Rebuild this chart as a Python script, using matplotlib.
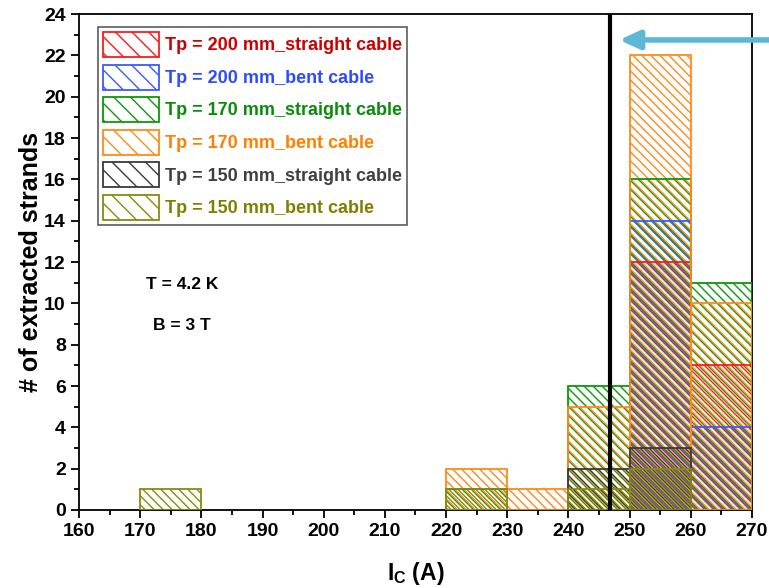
import matplotlib
matplotlib.use("Agg")
import matplotlib.pyplot as plt
import numpy as np
from matplotlib.patches import Patch
from matplotlib.collections import LineCollection
from matplotlib.transforms import IdentityTransform
from matplotlib.ticker import MultipleLocator

plt.rcParams['font.family'] = ['Liberation Sans', 'DejaVu Sans']
plt.rcParams['font.weight'] = 'bold'
plt.rcParams['mathtext.fontset'] = 'custom'
plt.rcParams['mathtext.rm'] = 'Liberation Sans:bold'
plt.rcParams['mathtext.it'] = 'Liberation Sans:bold'
plt.rcParams['mathtext.bf'] = 'Liberation Sans:bold'
plt.rcParams['hatch.linewidth'] = 1.0

# Histogram bins (left edges, 10 A wide)
bin_left = [170, 180, 190, 200, 210, 220, 230, 240, 250, 260]
bin_width = 10

labels = [
    "Tp = 200 mm_straight cable",
    "Tp = 200 mm_bent cable",
    "Tp = 170 mm_straight cable",
    "Tp = 170 mm_bent cable",
    "Tp = 150 mm_straight cable",
    "Tp = 150 mm_bent cable",
]
counts_200_straight = [0, 0, 0, 0, 0, 0, 0, 0, 12, 7]
counts_200_bent     = [0, 0, 0, 0, 0, 0, 0, 0, 14, 4]
counts_170_straight = [0, 0, 0, 0, 0, 1, 0, 6, 16, 11]
counts_170_bent     = [0, 0, 0, 0, 0, 2, 1, 5, 22, 10]
counts_150_straight = [0, 0, 0, 0, 0, 0, 0, 2, 3, 0]
counts_150_bent     = [1, 0, 0, 0, 0, 1, 0, 1, 2, 0]
series = [counts_200_straight, counts_200_bent, counts_170_straight,
          counts_170_bent, counts_150_straight, counts_150_bent]

edge_colors = ['#FF1A1A', '#3A5BFF', '#0A9A0A', '#FF8A1A', '#3A3A3A', '#8A8A10']
text_colors = ['#CC0000', '#2E4BFF', '#0A8C0A', '#FF8000', '#404040', '#808000']

ic_mean = 246.8   # vertical reference line
T_text = "T = 4.2 K"
B_text = "B = 3 T"

DPI = 100
fig = plt.figure(figsize=(7.69, 5.88), dpi=DPI)
ax = fig.add_axes([0.1027, 0.1327, 0.8752, 0.8433])
ax.set_xlim(160, 270)
ax.set_ylim(0, 24)

HATCH_STEP = 9.0   # px between hatch lines of one series


def hatch_patch(patch, color, phase):
    """Diagonal '\\' hatch lines clipped to a bar, shifted by `phase` px."""
    (x0, y0), (x1, y1) = ax.transData.transform(
        [(patch.get_x(), patch.get_y()),
         (patch.get_x() + patch.get_width(), patch.get_y() + patch.get_height())])
    cmin, cmax = x0 + y0, x1 + y1
    k0 = np.floor((cmin - phase) / HATCH_STEP) - 1
    k1 = np.ceil((cmax - phase) / HATCH_STEP) + 1
    segs = []
    for k in np.arange(k0, k1 + 1):
        c = k * HATCH_STEP + phase
        segs.append([(c - y1, y1), (c - y0, y0)])
    lc = LineCollection(segs, colors=color, linewidths=1.0,
                        transform=IdentityTransform(), zorder=2)
    ax.add_collection(lc, autolim=False)
    lc.set_clip_path(patch)


for i, (counts, ec) in enumerate(zip(series, edge_colors)):
    c = np.array(counts)
    x = np.array(bin_left)[c > 0]
    h = c[c > 0]
    bars = ax.bar(x, h, width=bin_width, align='edge', fill=False,
                  edgecolor=ec, linewidth=1.3, zorder=3)
    for p in bars.patches:
        hatch_patch(p, ec, i * HATCH_STEP / len(series))

ax.axvline(ic_mean, color='black', linewidth=3, zorder=4)

# arrow pointing at the reference line
ax.annotate('', xy=(248.3, 22.75), xytext=(290, 22.75),
            arrowprops=dict(arrowstyle='-|>,head_length=1.2,head_width=0.55',
                            color='#5CB8D6', lw=4, shrinkA=0, shrinkB=0),
            annotation_clip=False, zorder=5)

ax.xaxis.set_major_locator(MultipleLocator(10))
ax.xaxis.set_minor_locator(MultipleLocator(5))
ax.yaxis.set_major_locator(MultipleLocator(2))
ax.yaxis.set_minor_locator(MultipleLocator(1))
ax.tick_params(which='major', direction='out', length=6, width=1.3, labelsize=14)
ax.tick_params(which='minor', direction='out', length=3.5, width=1.3)
for lab in ax.get_xticklabels() + ax.get_yticklabels():
    lab.set_fontweight('bold')
for sp in ax.spines.values():
    sp.set_linewidth(1.3)

ax.set_xlabel(r'$I_C$ (A)', fontsize=16.5, fontweight='bold', labelpad=14)
ax.set_ylabel('# of extracted strands', fontsize=18, fontweight='bold', labelpad=1)

ax.text(176.9, 10.93, T_text, fontsize=12.5, fontweight='bold', ha='center', va='center')
ax.text(176.8, 8.95, B_text, fontsize=12.5, fontweight='bold', ha='center', va='center')

handles = [Patch(facecolor='none', edgecolor=ec, hatch='\\\\', linewidth=1.3)
           for ec in edge_colors]
leg = ax.legend(handles, labels, loc='upper left', bbox_to_anchor=(0.028, 0.974),
                prop={'weight': 'bold', 'size': 13},
                handlelength=3.1, handleheight=1.75, handletextpad=0.33,
                labelspacing=0.42, borderpad=0.28, borderaxespad=0.0,
                frameon=True, fancybox=False, labelcolor=text_colors)
leg.get_frame().set_edgecolor('#333333')
leg.get_frame().set_linewidth(1.2)
leg.set_zorder(6)

fig.savefig('out.png', dpi=DPI)
